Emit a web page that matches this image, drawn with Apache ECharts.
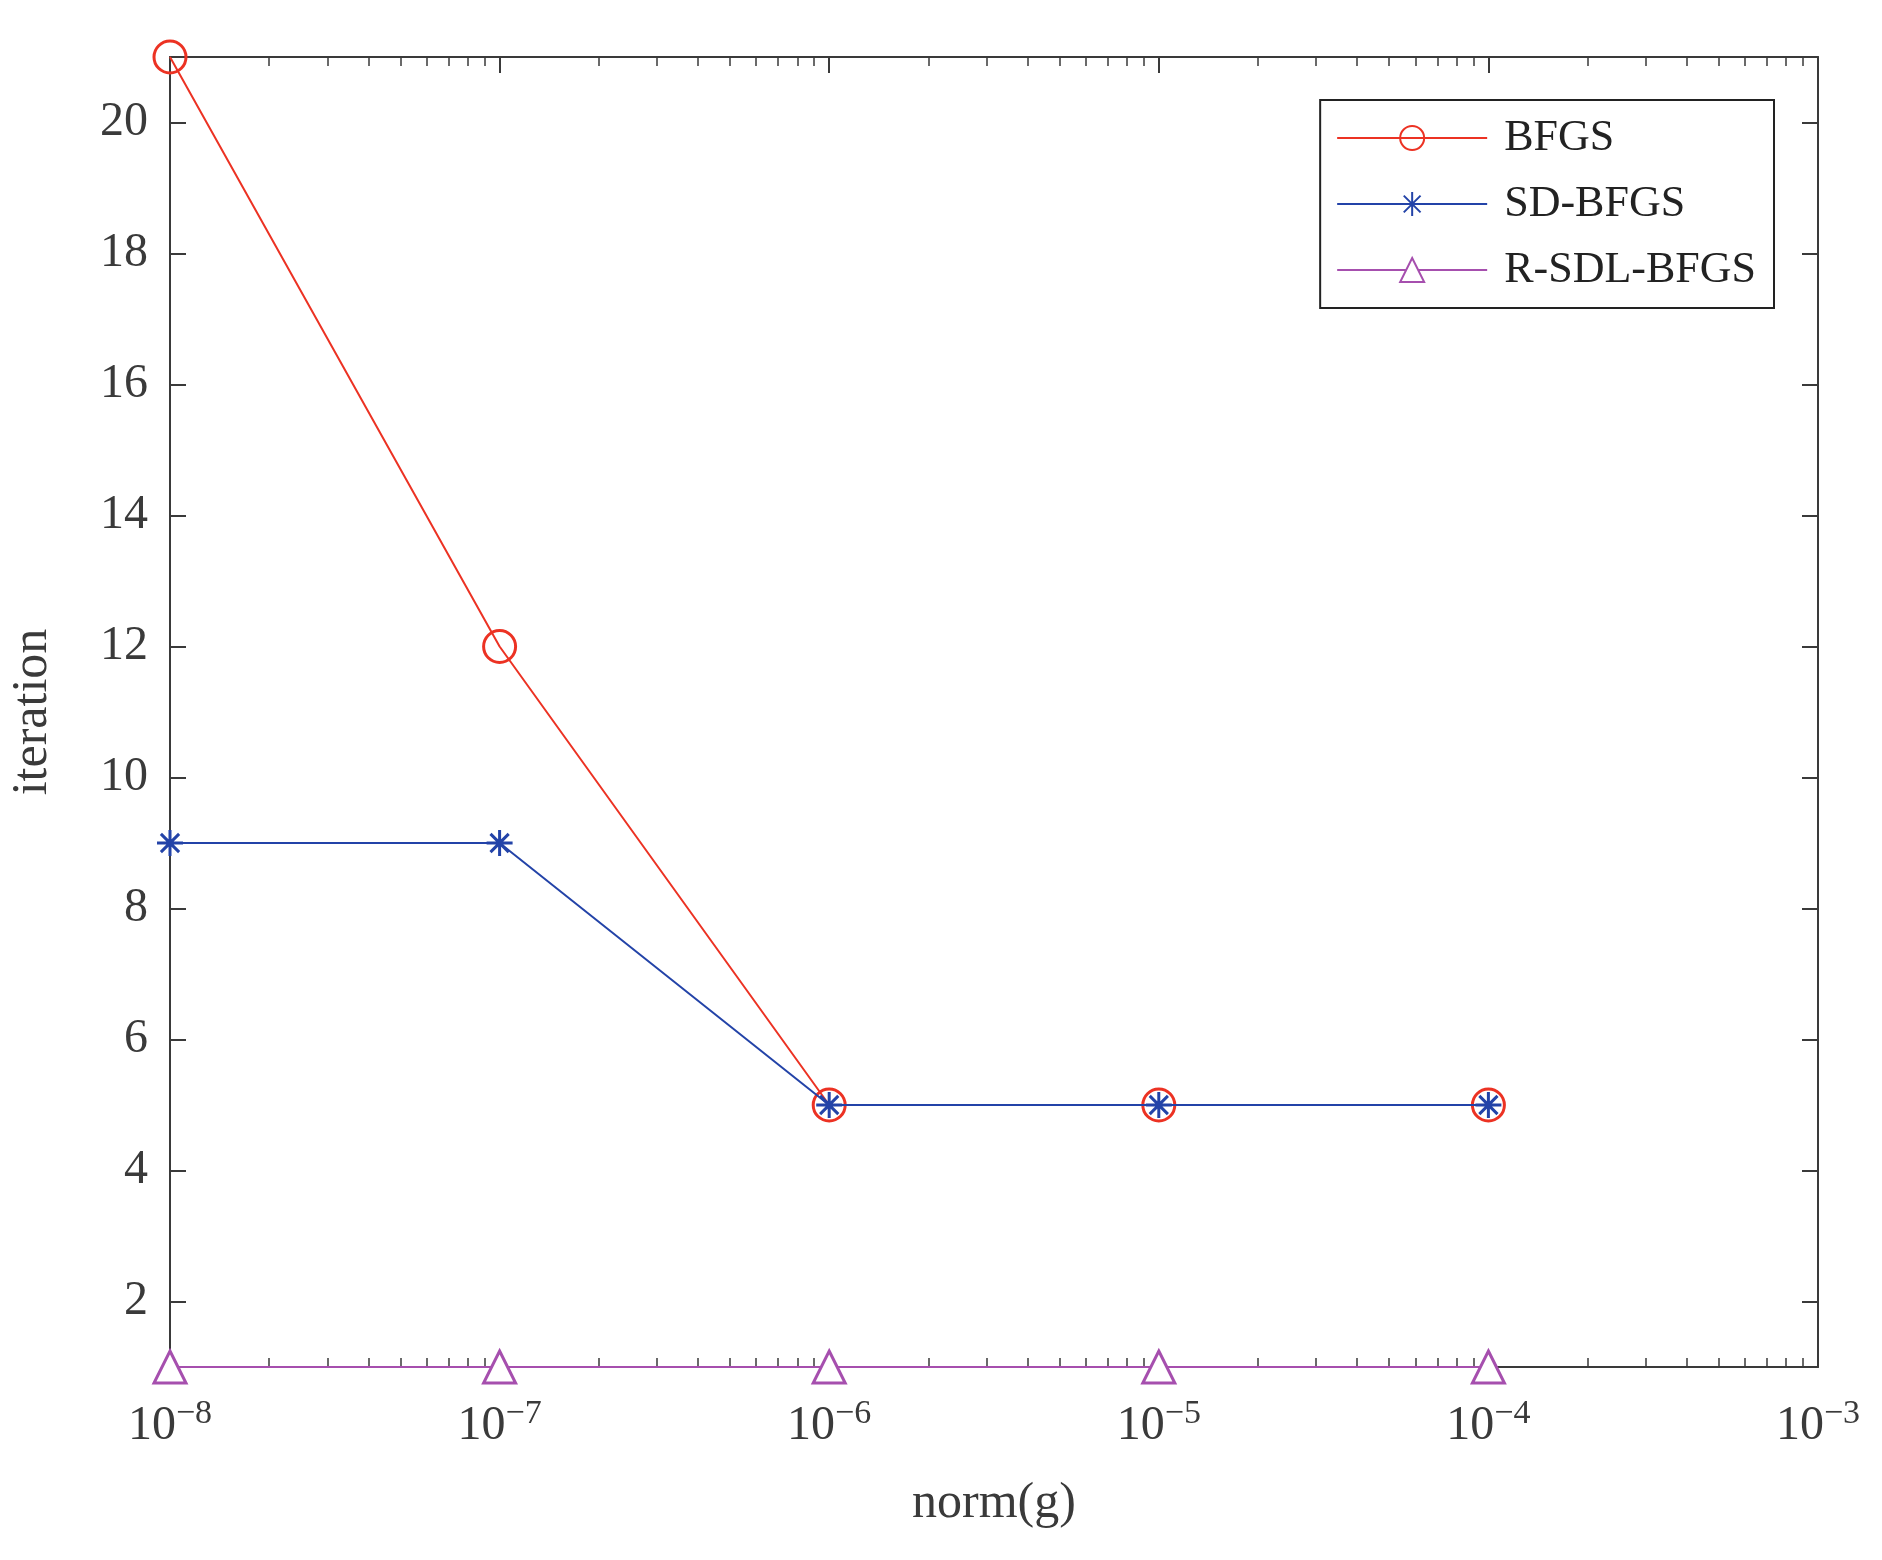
<!DOCTYPE html>
<html><head><meta charset="utf-8">
<script src="https://cdn.jsdelivr.net/npm/echarts@6/dist/echarts.min.js"></script>
<style>html,body{margin:0;background:#fff}#c{width:1882px;height:1560px}</style>
</head><body><div id="c"></div>
<script>
var xs = [1e-8, 1e-7, 1e-6, 1e-5, 1e-4];
var bfgs = [21, 12, 5, 5, 5];
var sdBfgs = [9, 9, 5, 5, 5];
var rsdl = [1, 1, 1, 1, 1];
var yTicks = [2, 4, 6, 8, 10, 12, 14, 16, 18, 20];

var font = 'Liberation Serif';
var axisCol = '#3a3a3a';
function pairs(ys) { return xs.map(function (x, i) { return [x, ys[i]]; }); }

var tickStyle = { show: true, inside: true, length: 16, lineStyle: { color: axisCol, width: 2 } };
var minor = { show: true, splitNumber: 9, length: 9, lineStyle: { color: axisCol, width: 1.5 } };
var yTick = { show: true, inside: true, length: 16, lineStyle: { color: axisCol, width: 2 }, customValues: yTicks };

var option = {
    backgroundColor: '#fff',
    grid: { left: 169, right: 64, top: 57, bottom: 193 },
    legend: {
        right: 108, top: 100, orient: 'vertical',
        itemWidth: 150, itemHeight: 30, itemGap: 22,
        padding: [16, 18, 16, 16],
        borderColor: '#222', borderWidth: 2,
        textStyle: { fontFamily: font, fontSize: 44, color: '#222', padding: [0, 0, 0, 12] },
        data: ['BFGS', 'SD-BFGS', 'R-SDL-BFGS']
    },
    xAxis: [{
        type: 'log', min: 1e-8, max: 1e-3, logBase: 10,
        name: 'norm(g)', nameLocation: 'middle', nameGap: 112,
        nameTextStyle: { fontFamily: font, fontSize: 50, color: axisCol },
        axisLine: { lineStyle: { color: axisCol, width: 2 } },
        axisTick: tickStyle, minorTick: minor, splitLine: { show: false },
        axisLabel: {
            margin: 30, fontFamily: font, fontSize: 48, color: axisCol,
            formatter: function (v) { return '10{s|−' + (-Math.round(Math.log10(v))) + '}'; },
            rich: { s: { fontFamily: font, fontSize: 34, color: axisCol, verticalAlign: 'top', padding: [0, 0, 24, 0] } }
        }
    }, {
        type: 'log', min: 1e-8, max: 1e-3, position: 'top',
        axisLine: { lineStyle: { color: axisCol, width: 2 } },
        axisTick: tickStyle, minorTick: minor, axisLabel: { show: false }, splitLine: { show: false }
    }],
    yAxis: [{
        type: 'value', min: 1, max: 21,
        name: 'iteration', nameLocation: 'middle', nameGap: 112,
        nameTextStyle: { fontFamily: font, fontSize: 50, color: axisCol },
        axisLine: { show: true, lineStyle: { color: axisCol, width: 2 } },
        axisTick: yTick, splitLine: { show: false },
        axisLabel: { margin: 22, fontFamily: font, fontSize: 48, color: axisCol, customValues: yTicks }
    }, {
        type: 'value', min: 1, max: 21, position: 'right',
        axisLine: { show: true, lineStyle: { color: axisCol, width: 2 } },
        axisTick: yTick, axisLabel: { show: false }, splitLine: { show: false }
    }],
    series: [{
        name: 'R-SDL-BFGS', type: 'line', data: pairs(rsdl), z: 3,
        symbol: 'triangle', symbolSize: 32,
        lineStyle: { color: '#a64fae', width: 2 },
        itemStyle: { color: '#fff', borderColor: '#a64fae', borderWidth: 3 }
    }, {
        name: 'BFGS', type: 'line', data: pairs(bfgs), z: 4,
        symbol: 'circle', symbolSize: 32,
        lineStyle: { color: '#ec3223', width: 2 },
        itemStyle: { color: 'rgba(255,255,255,0)', borderColor: '#ec3223', borderWidth: 3 }
    }, {
        name: 'SD-BFGS', type: 'line', data: pairs(sdBfgs), z: 5,
        symbol: 'path://M0,-10L0,10M-10,0L10,0M-7,-7L7,7M-7,7L7,-7', symbolSize: 26,
        lineStyle: { color: '#2343a8', width: 2 },
        itemStyle: { color: '#2343a8', borderColor: '#2343a8', borderWidth: 3 }
    }]
};
echarts.init(document.getElementById('c')).setOption(option);
</script></body></html>
